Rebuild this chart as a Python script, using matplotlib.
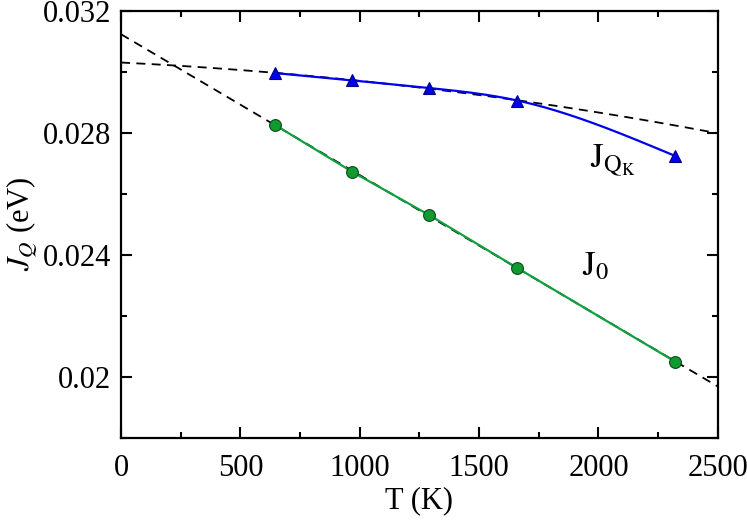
import numpy as np
import matplotlib
matplotlib.use("Agg")
import matplotlib.pyplot as plt
from matplotlib.ticker import MultipleLocator

plt.rcParams['font.family'] = ['Liberation Serif', 'DejaVu Serif']
plt.rcParams['mathtext.fontset'] = 'stix'

# Data
T = [645, 967, 1290, 1660, 2322]
J_QK = [0.02995, 0.02971, 0.02946, 0.02905, 0.02723]
J_0 = [0.02825, 0.02672, 0.02530, 0.02356, 0.02049]

# Dashed extrapolations: polynomial coefficients in T/1000 (highest power first)
fit_QK_coef = [-0.0002178, -0.000383, 0.030295]
fit_range = [0, 2500]


def natural_spline(x, y, xs):
    x = np.asarray(x, float); y = np.asarray(y, float)
    n = len(x)
    h = np.diff(x)
    A = np.zeros((n, n)); b = np.zeros(n)
    A[0, 0] = 1; A[-1, -1] = 1
    for i in range(1, n - 1):
        A[i, i - 1] = h[i - 1]
        A[i, i] = 2 * (h[i - 1] + h[i])
        A[i, i + 1] = h[i]
        b[i] = 6 * ((y[i + 1] - y[i]) / h[i] - (y[i] - y[i - 1]) / h[i - 1])
    M = np.linalg.solve(A, b)
    out = np.empty_like(xs)
    for k, t in enumerate(xs):
        i = int(np.clip(np.searchsorted(x, t) - 1, 0, n - 2))
        a = x[i + 1] - t; c = t - x[i]
        out[k] = (M[i] * a**3 + M[i + 1] * c**3) / (6 * h[i]) + \
                 (y[i] / h[i] - M[i] * h[i] / 6) * a + (y[i + 1] / h[i] - M[i + 1] * h[i] / 6) * c
    return out


fig = plt.figure(figsize=(7.47, 5.2), dpi=100)
ax = fig.add_axes([0.162, 0.1583, 0.799, 0.8215])

tf = np.linspace(fit_range[0], fit_range[1], 300)
Tk = np.asarray(T, float) / 1000.0
ax.plot(tf, np.polyval(fit_QK_coef, tf / 1000.0), color='black', ls=(0, (5, 3.5)), lw=1.3, zorder=2)
# linear fit of J_0, extrapolated
c0 = np.polyfit(Tk, J_0, 1)
ax.plot(tf, np.polyval(c0, tf / 1000.0), color='black', ls=(0, (5, 3.5)), lw=1.3, zorder=2)

ts = np.linspace(T[0], T[-1], 300)
ax.plot(ts, natural_spline(T, J_QK, ts), color='#0000ee', lw=1.6, zorder=3)
ax.plot(T, J_QK, ls='none', marker='^', ms=8, mfc='#0000ee', mec='#000080', mew=0.8, zorder=4)

ax.plot(T, J_0, color='#10a040', lw=1.6, zorder=3)
ax.plot(T, J_0, ls='none', marker='o', ms=8.5, mfc='#109a30', mec='#0a4a1a', mew=0.8, zorder=4)

ax.set_xlim(0, 2500)
ax.set_ylim(0.018, 0.032)
ax.xaxis.set_major_locator(MultipleLocator(500))
ax.xaxis.set_minor_locator(MultipleLocator(250))
ax.yaxis.set_minor_locator(MultipleLocator(0.002))
ax.set_yticks([0.02, 0.024, 0.028, 0.032])
ax.set_yticklabels(['0.02', '0.024', '0.028', '0.032'])

ax.tick_params(which='both', direction='in', top=True, right=True, labelsize=22, width=1.5)
ax.tick_params(which='major', length=8)
ax.tick_params(which='minor', length=4.5)
ax.tick_params(axis='x', pad=12)
ax.tick_params(axis='y', pad=7)
for s in ax.spines.values():
    s.set_linewidth(1.6)

ax.set_xlabel('T (K)', fontsize=22, labelpad=2)
ax.set_ylabel(r'$J_Q$ (eV)', fontsize=22, labelpad=2)

ax.text(1964, 0.02684, r'$\mathrm{J}_{\mathrm{Q}_{\mathrm{K}}}$', fontsize=25, ha='left', va='baseline')
ax.text(1930, 0.02333, r'$\mathrm{J}_{0}$', fontsize=25, ha='left', va='baseline')

fig.savefig('out.png', dpi=100)
